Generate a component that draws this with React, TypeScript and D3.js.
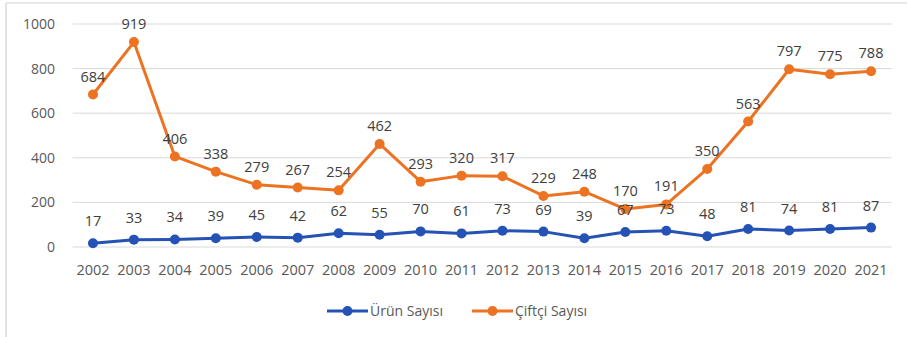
import React from "react";
import * as d3 from "d3";

const years = ["2002","2003","2004","2005","2006","2007","2008","2009","2010","2011","2012","2013","2014","2015","2016","2017","2018","2019","2020","2021"];
const urun = [17,33,34,39,45,42,62,55,70,61,73,69,39,67,73,48,81,74,81,87];
const ciftci = [684,919,406,338,279,267,254,462,293,320,317,229,248,170,191,350,563,797,775,788];
const yTicks = [0,200,400,600,800,1000];

const W = 907, H = 337;
const BLUE = "#2552B5";
const ORANGE = "#EC7322";
const FONT = "'Open Sans', Lato, sans-serif";

export default function App() {
  const x = d3.scaleBand<string>().domain(years).range([72.5, 891.5]);
  const cx = (y: string) => (x(y) as number) + x.bandwidth() / 2;
  const y = d3.scaleLinear().domain([0, 1000]).range([247, 24]);
  const line = d3.line<number>().x((_, i) => cx(years[i])).y((d) => y(d));

  const series = [
    { name: "Ürün Sayısı", data: urun, color: BLUE, dy: -22 },
    { name: "Çiftçi Sayısı", data: ciftci, color: ORANGE, dy: -18 },
  ];

  return (
    <svg width={W} height={H} style={{ position: "absolute", left: 0, top: 0, background: "#fff" }} fontFamily={FONT}>
      <rect x={0} y={0} width={W} height={H} fill="#fff" />
      <line x1={6} x2={6} y1={3} y2={H} stroke="#d9d9d9" strokeWidth={1.5} />
      <line x1={6} x2={W} y1={3} y2={3} stroke="#e3e3e3" strokeWidth={1.5} />
      {yTicks.map((t) => (
        <g key={t}>
          <line x1={72.5} x2={891.5} y1={y(t)} y2={y(t)} stroke="#d9d9d9" strokeWidth={1} />
          <text x={55} y={y(t)} dy="0.35em" textAnchor="end" fontSize={14} fill="#595959">{t}</text>
        </g>
      ))}
      {years.map((yr) => (
        <text key={yr} x={cx(yr)} y={270} dy="0.35em" textAnchor="middle" fontSize={14.5} fill="#595959">{yr}</text>
      ))}
      {series.map((s) => (
        <g key={s.name}>
          <path d={line(s.data) || ""} fill="none" stroke={s.color} strokeWidth={3} strokeLinejoin="round" />
          {s.data.map((v, i) => (
            <circle key={i} cx={cx(years[i])} cy={y(v)} r={5} fill={s.color} />
          ))}
        </g>
      ))}
      {series.map((s) => (
        <g key={s.name + "l"}>
          {s.data.map((v, i) => (
            <text key={i} x={cx(years[i])} y={y(v) + s.dy} dy="0.35em" textAnchor="middle" fontSize={14.5} fill="#404040">{v}</text>
          ))}
        </g>
      ))}
      {series.map((s, k) => {
        const x0 = k === 0 ? 327 : 472;
        return (
          <g key={s.name + "g"}>
            <line x1={x0} x2={x0 + 41} y1={311} y2={311} stroke={s.color} strokeWidth={3} />
            <circle cx={x0 + 20.5} cy={311} r={5} fill={s.color} />
            <text x={x0 + 43} y={311} dy="0.35em" fontSize={14} fill="#595959">{s.name}</text>
          </g>
        );
      })}
    </svg>
  );
}
